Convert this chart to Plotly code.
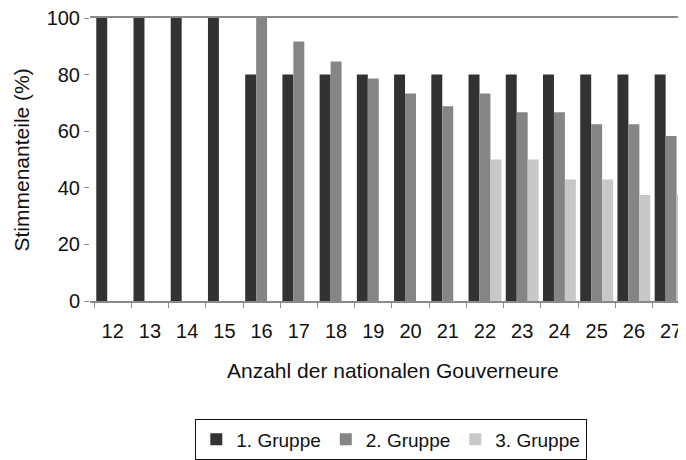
import plotly.graph_objects as go

categories = ["12", "13", "14", "15", "16", "17", "18", "19", "20", "21", "22", "23", "24", "25", "26", "27"]
gruppe1 = [100, 100, 100, 100, 80, 80, 80, 80, 80, 80, 80, 80, 80, 80, 80, 80]
gruppe2 = [None, None, None, None, 100, 91.7, 84.6, 78.6, 73.3, 68.8, 73.3, 66.7, 66.7, 62.5, 62.5, 58.3]
gruppe3 = [None, None, None, None, None, None, None, None, None, None, 50, 50, 42.9, 42.9, 37.5, 37.5]
series_names = ["1. Gruppe", "2. Gruppe", "3. Gruppe"]
y_ticks = [0, 20, 40, 60, 80, 100]
x_title = "Anzahl der nationalen Gouverneure"
y_title = "Stimmenanteile (%)"

FONT = "Liberation Sans, Arial, sans-serif"
TXT = "#111111"
colors = ["#323232", "#858585", "#c8c8c8"]

fig = go.Figure()
for name, vals, col in zip(series_names, [gruppe1, gruppe2, gruppe3], colors):
    fig.add_trace(go.Bar(x=categories, y=vals, name=name, marker=dict(color=col, line=dict(width=0))))

# page body has an 8px default margin; size the figure so it ends at the window edge
W, H = 678, 452
ml, mr, mt, mb = 82, 0, 10, 158
plot_w = W - ml - mr
plot_h = H - mt - mb
ox, oy = 8, 8  # body offset in window pixels


def px_x(x):  # window px -> paper x
    return (x - ox - ml) / plot_w


def px_y(y):  # window px -> paper y
    return (H - mb - (y - oy)) / plot_h


fig.update_layout(
    width=W, height=H,
    margin=dict(l=ml, r=mr, t=mt, b=mb),
    paper_bgcolor="white", plot_bgcolor="white",
    barmode="group", bargap=0.117, bargroupgap=0,
    font=dict(family=FONT, size=20, color=TXT),
    showlegend=True,
    legend=dict(
        orientation="h", x=px_x(391), xanchor="center",
        y=px_y(420), yanchor="top",
        bordercolor=TXT, borderwidth=1.3, bgcolor="white",
        font=dict(family=FONT, size=19, color=TXT),
        itemwidth=30, traceorder="normal",
    ),
    annotations=[
        dict(text=x_title, xref="paper", yref="paper", x=px_x(392.5), y=px_y(372),
             xanchor="center", yanchor="middle", showarrow=False,
             font=dict(family=FONT, size=21, color=TXT)),
        dict(text=y_title, xref="paper", yref="paper", x=px_x(21), y=px_y(161),
             xanchor="center", yanchor="middle", showarrow=False, textangle=-90,
             font=dict(family=FONT, size=21, color=TXT)),
    ],
)

fig.update_xaxes(
    type="category", range=[-0.61, 15.40],
    showline=True, linecolor="#8a8a8a", linewidth=1.5, mirror=True,
    ticks="outside", ticklen=5, tickcolor="#8a8a8a", tickwidth=1.2,
    tickson="boundaries", showgrid=False, zeroline=False,
    tickfont=dict(family=FONT, size=20, color=TXT),
    ticklabelstandoff=11, ticklabeloverflow="allow",
    automargin=False,
)
fig.update_yaxes(
    range=[0, 100], tickvals=y_ticks, ticktext=[str(v) for v in y_ticks],
    showline=False, showgrid=False, zeroline=False,
    ticks="outside", ticklen=5, tickcolor="#8a8a8a", tickwidth=1.2,
    tickfont=dict(family=FONT, size=20, color=TXT),
    ticklabelstandoff=0, ticklabeloverflow="allow",
    automargin=False,
)

fig.write_html("out.html")
